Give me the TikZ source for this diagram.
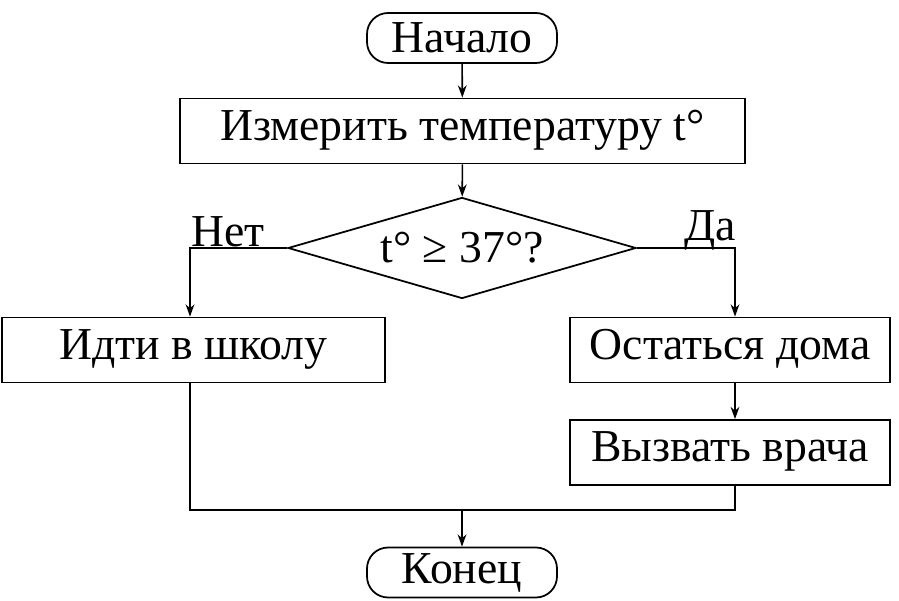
\documentclass[tikz,border=0pt]{standalone}
\usepackage{fontspec}
\setmainfont{Liberation Serif}
\usetikzlibrary{shapes.geometric,arrows.meta}
\tikzset{
  term/.style={draw,rounded corners=12pt,line width=1pt,minimum width=3.8cm,minimum height=1cm,inner sep=1pt},
  act/.style={draw,line width=1pt,minimum height=1.3cm,inner sep=2pt,text height=0.5cm,text depth=0.12cm},
  cond/.style={draw,diamond,aspect=3.45,line width=1pt,minimum width=6.96cm,minimum height=2.02cm,inner sep=0pt},
  flow/.style={line width=0.9pt,-{Stealth[length=7pt,width=5pt]}}
}
\begin{document}
\begin{tikzpicture}[font=\fontsize{26}{28}\selectfont]
  \useasboundingbox (0,0) rectangle (17.98,-12.02);
  \node[term] (start) at (9.24,-0.76) {Начало};
  \node[act,minimum width=11.3cm] (measure) at (9.25,-2.62) {Измерить температуру t°};
  \node[cond] (check) at (9.24,-4.96) {t° ≥ 37°?};
  \node[act,minimum width=7.66cm] (school) at (3.87,-7.0) {Идти в школу};
  \node[act,minimum width=6.4cm] (home) at (14.6,-7.0) {Остаться дома};
  \node[act,minimum width=6.4cm] (doctor) at (14.6,-9.05) {Вызвать врача};
  \node[term] (stop) at (9.24,-11.45) {Конец};
  \coordinate (merge) at (9.24,-10.2);

  \node (no) at (4.56,-4.64) {Нет};
  \node (yes) at (14.2,-4.6) {Да};

  \draw[flow] (start) -- (measure);
  \draw[flow] (measure) -- (check);
  \draw[flow] (check.west) -| (school.north -| 3.8,0);
  \draw[flow] (check.east) -| (home.north -| 14.7,0);
  \draw[flow] (home.south -| 14.7,0) -- (doctor.north -| 14.7,0);
  \draw[line width=0.9pt] (school.south -| 3.8,0) |- (merge);
  \draw[line width=0.9pt] (doctor.south -| 14.7,0) |- (merge);
  \draw[flow] (merge) -- (stop);
\end{tikzpicture}
\end{document}
